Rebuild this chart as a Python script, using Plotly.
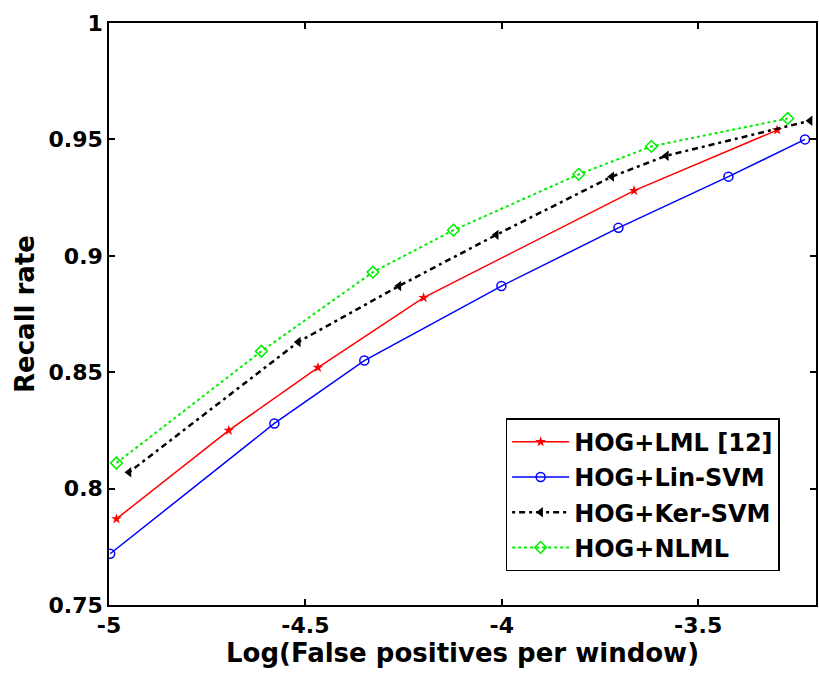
import plotly.graph_objects as go

# Data
lml_x = [-4.981, -4.695, -4.468, -4.199, -3.663, -3.299]
lml_y = [0.787, 0.825, 0.852, 0.882, 0.928, 0.954]

lin_x = [-4.997, -4.579, -4.350, -4.001, -3.703, -3.423, -3.228]
lin_y = [0.772, 0.828, 0.855, 0.887, 0.912, 0.934, 0.950]

ker_x = [-4.949, -4.518, -4.262, -4.014, -3.720, -3.581, -3.215]
ker_y = [0.807, 0.863, 0.887, 0.909, 0.934, 0.943, 0.958]

nlml_x = [-4.981, -4.612, -4.328, -4.123, -3.804, -3.619, -3.272]
nlml_y = [0.811, 0.859, 0.893, 0.911, 0.935, 0.947, 0.959]

names = ["HOG+LML [12]", "HOG+Lin-SVM", "HOG+Ker-SVM", "HOG+NLML"]
x_ticks = [-5, -4.5, -4, -3.5]
x_tick_text = ["-5", "-4.5", "-4", "-3.5"]
y_ticks = [0.75, 0.8, 0.85, 0.9, 0.95, 1]
y_tick_text = ["0.75", "0.8", "0.85", "0.9", "0.95", "1"]

FONT = "DejaVu Sans"

fig = go.Figure()
fig.add_trace(go.Scatter(x=lml_x, y=lml_y, name=names[0], mode="lines+markers",
                         legendgroup="g1",
                         line=dict(color="#ff0000", width=1.5),
                         marker=dict(symbol="star", size=8, color="#ff0000")))
fig.add_trace(go.Scatter(x=lin_x, y=lin_y, name=names[1], mode="lines+markers",
                         legendgroup="g2",
                         line=dict(color="#0000ff", width=1.5),
                         marker=dict(symbol="circle-open", size=9, color="#0000ff",
                                     line=dict(width=1.5))))
fig.add_trace(go.Scatter(x=ker_x, y=ker_y, name=names[2], mode="lines+markers",
                         legendgroup="g3",
                         line=dict(color="#000000", width=2.5, dash="3px,4px,6px,4px"),
                         marker=dict(symbol="triangle-left", size=9, color="#000000")))
fig.add_trace(go.Scatter(x=nlml_x, y=nlml_y, name=names[3], mode="lines+markers",
                         legendgroup="g4",
                         line=dict(color="#00ee00", width=2, dash="dot"),
                         marker=dict(symbol="diamond-open", size=9, color="#00ee00",
                                     line=dict(width=1.5))))

axis_common = dict(
    showgrid=False, zeroline=False, showline=True, linecolor="black", linewidth=1.5,
    mirror="allticks", ticks="inside", ticklen=6, tickcolor="black", tickwidth=1.5,
    tickfont=dict(family=FONT, size=22, color="black", weight="bold"),
)

fig.update_xaxes(range=[-5, -3.2], tickvals=x_ticks, ticktext=x_tick_text,
                 title=dict(text="Log(False positives per window)", standoff=2,
                            font=dict(family=FONT, size=26, color="black", weight="bold")),
                 **axis_common)
fig.update_yaxes(range=[0.75, 1], tickvals=y_ticks, ticktext=y_tick_text,
                 title=dict(text="Recall rate", standoff=6,
                            font=dict(family=FONT, size=26, color="black", weight="bold")),
                 **axis_common)

fig.update_layout(
    width=819, height=675,
    margin=dict(l=109, r=1, t=23, b=70),
    paper_bgcolor="white", plot_bgcolor="white",
    legend=dict(x=0.561, y=0.321, xanchor="left", yanchor="top",
                bgcolor="white", bordercolor="black", borderwidth=1.5,
                font=dict(family=FONT, size=24, color="black", weight="bold"),
                tracegroupgap=1, itemwidth=57),
    showlegend=True,
)

fig.write_html("out.html")
